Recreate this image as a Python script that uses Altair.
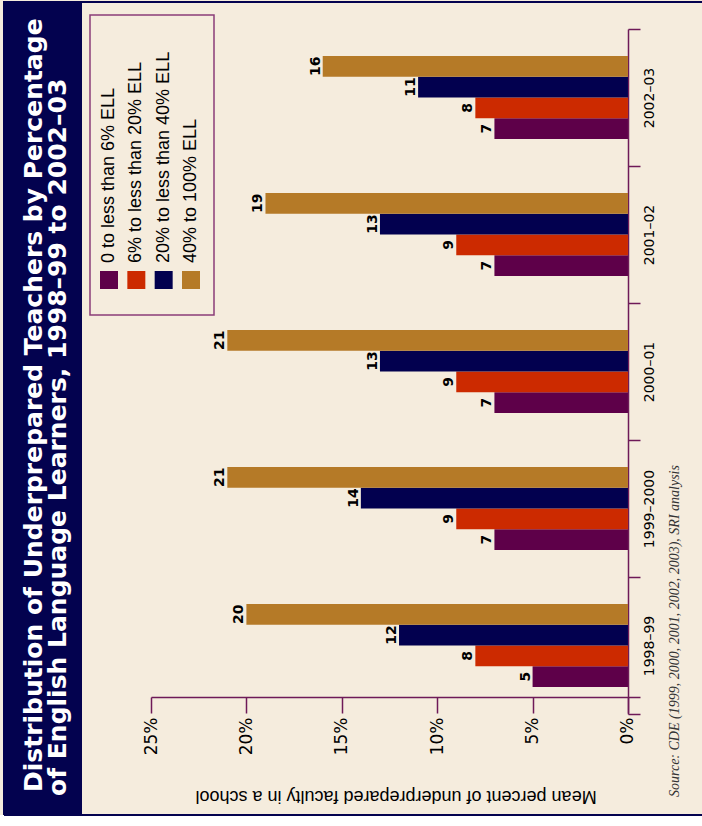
import altair as alt
import pandas as pd

# ---- data -------------------------------------------------------------
years = ["1998–99", "1999–2000", "2000–01", "2001–02", "2002–03"]
series = [
    "0 to less than 6% ELL",
    "6% to less than 20% ELL",
    "20% to less than 40% ELL",
    "40% to 100% ELL",
]
ell_0_6 = [5, 7, 7, 7, 7]
ell_6_20 = [8, 9, 9, 9, 8]
ell_20_40 = [12, 14, 13, 13, 11]
ell_40_100 = [20, 21, 21, 19, 16]
tick_values = [0, 5, 10, 15, 20, 25]

title_line1 = "Distribution of Underprepared Teachers by Percentage"
title_line2 = "of English Language Learners, 1998–99 to 2002–03"
axis_title = "Mean percent of underprepared faculty in a school"
source_note = "Source: CDE (1999, 2000, 2001, 2002, 2003), SRI analysis"

# ---- styling ----------------------------------------------------------
colors = ["#5E0049", "#CC2A00", "#02004F", "#B57A27"]
cream = "#F5ECDD"
navy = "#03024F"
plum = "#6E1A58"
legend_edge = "#8A3D78"

rows = []
for s, vals in zip(series, [ell_0_6, ell_6_20, ell_20_40, ell_40_100]):
    for y, v in zip(years, vals):
        rows.append({"year": y, "series": s, "value": v})
df = pd.DataFrame(rows)
legend_df = pd.DataFrame({"series": series})
one = pd.DataFrame({"k": [0]})

x_scale = alt.Scale(domain=[-0.63, 25], reverse=True, nice=False)
# each school year owns a full 137px band; the four bars sit in its middle
y_scale = alt.Scale(domain=years[::-1], paddingInner=0, paddingOuter=0)
yoff_scale = alt.Scale(domain=series[::-1], range=[27, 110], paddingInner=0, paddingOuter=0)
color_scale = alt.Scale(domain=series, range=colors)

# dark title strip, page border and white margin at the foot
strip = alt.Chart(one).mark_rect(fill=navy, stroke=navy, strokeWidth=2).encode(
    x=alt.value(-147), x2=alt.value(-70), y=alt.value(-27), y2=alt.value(786)
)
foot = alt.Chart(one).mark_rect(fill="white").encode(
    x=alt.value(-160), x2=alt.value(570), y=alt.value(786), y2=alt.value(800)
)
edge_top = alt.Chart(one).mark_rule(color=navy, strokeWidth=2).encode(
    x=alt.value(-147), x2=alt.value(570), y=alt.value(-27)
)
edge_bottom = alt.Chart(one).mark_rule(color=navy, strokeWidth=2).encode(
    x=alt.value(-147), x2=alt.value(570), y=alt.value(786)
)
title_style = dict(angle=270, align="left", baseline="alphabetic",
                   font="DejaVu Sans", fontWeight="bold", fontSize=25, color="white")
t1 = alt.Chart(one).mark_text(text=title_line1, **title_style).encode(
    x=alt.value(-109), y=alt.value(763)
)
t2 = alt.Chart(one).mark_text(text=title_line2, **title_style).encode(
    x=alt.value(-85), y=alt.value(767)
)

bars = alt.Chart(df).mark_bar().encode(
    x=alt.X(
        "value:Q",
        scale=x_scale,
        axis=alt.Axis(
            values=tick_values,
            labelExpr="datum.value + '%'",
            orient="bottom",
            offset=-17,
            grid=False,
            tickSize=16,
            tickWidth=1.5,
            domainWidth=1.5,
            tickColor=plum,
            domainColor=plum,
            labelAngle=270,
            labelAlign="right",
            labelBaseline="middle",
            labelPadding=4,
            labelFont="DejaVu Sans",
            labelFontSize=17,
            labelColor="black",
            title=axis_title,
            titleAngle=180,
            titleFont="Liberation Sans",
            titleFontSize=18,
            titleFontWeight="normal",
            titleColor="black",
            titleY=98,
            titleBaseline="middle",
        ),
    ),
    x2=alt.datum(0),
    y=alt.Y(
        "year:N",
        scale=y_scale,
        axis=alt.Axis(
            orient="right",
            offset=-12,
            tickBand="extent",
            tickSize=12,
            tickWidth=1.5,
            domainWidth=1.5,
            tickColor=plum,
            domainColor=plum,
            labelAngle=270,
            labelAlign="center",
            labelBaseline="top",
            labelPadding=2,
            labelFont="DejaVu Sans",
            labelFontSize=14,
            labelColor="black",
            title=None,
        ),
    ),
    yOffset=alt.YOffset("series:N", scale=yoff_scale),
    color=alt.Color("series:N", scale=color_scale, legend=None),
)

value_labels = alt.Chart(df).mark_text(
    angle=270, align="center", baseline="bottom",
    font="DejaVu Sans", fontWeight="bold", fontSize=14, color="black",
).encode(
    x=alt.X("value:Q", scale=x_scale, axis=None),
    y=alt.Y("year:N", scale=y_scale),
    yOffset=alt.YOffset("series:N", scale=yoff_scale),
    text=alt.Text("value:Q"),
)

# hand-laid legend, rotated to read upward
legend_x = alt.X("series:N", sort=series,
                 scale=alt.Scale(type="point", range=[-42, 40], padding=0), axis=None)
legend_box = alt.Chart(one).mark_rect(fill=cream, stroke=legend_edge, strokeWidth=1.5).encode(
    x=alt.value(-61), x2=alt.value(63), y=alt.value(-14), y2=alt.value(286)
)
legend_sw = alt.Chart(legend_df).mark_square(size=324, opacity=1, filled=True).encode(
    x=legend_x,
    y=alt.value(251),
    color=alt.Color("series:N", scale=color_scale, legend=None),
)
legend_tx = alt.Chart(legend_df).mark_text(
    angle=270, align="left", baseline="middle",
    font="Liberation Sans", fontSize=18, color="black",
).encode(x=legend_x, y=alt.value(234), text="series:N")
legend = alt.layer(legend_box, legend_sw, legend_tx)

source = alt.Chart(one).mark_text(
    text=source_note, angle=270, align="left", baseline="middle",
    font="Liberation Serif", fontStyle="italic", fontSize=14, color="#333333",
).encode(x=alt.value(524), y=alt.value(768))

chart = (
    alt.layer(legend, bars, value_labels, strip, foot, edge_top, edge_bottom, t1, t2, source)
    .resolve_scale(x="independent")
    .properties(
        width=489,
        height=685,
        padding={"left": 151, "top": 29, "right": 62, "bottom": 112},
        autosize=alt.AutoSizeParams(type="none"),
        background=cream,
    )
    .configure_view(strokeWidth=0)
)

chart.save("out.html", embed_options={"renderer": "svg", "actions": False})
